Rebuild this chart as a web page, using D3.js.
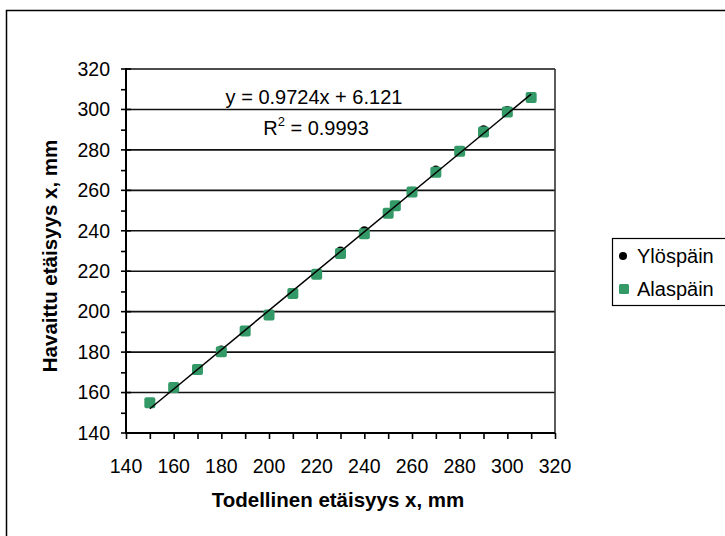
<!DOCTYPE html>
<html>
<head>
<meta charset="utf-8">
<script src="https://cdn.jsdelivr.net/npm/d3@7"></script>
<style>
  html, body { margin: 0; padding: 0; background: #fff; }
  svg { display: block; font-family: "Liberation Sans", Arial, sans-serif; }
</style>
</head>
<body>
<div id="wrapper"></div>
<script>
// datat luettu kuvasta
const xValues = [150, 160, 170, 180, 190, 200, 210, 220, 230, 240, 250, 253, 260, 270, 280, 290, 300, 310];
const ylospain = [155, 163, 171.5, 181, 190.5, 198.5, 209.5, 218.5, 230, 240, 249, 252.5, 259.5, 270, 279.5, 290, 299.5, 306];
const alaspain = [155, 162.5, 171.4, 180.2, 190.5, 198.4, 209, 218.5, 228.8, 238.5, 248.7, 252.4, 259.2, 269, 279.3, 288.8, 298.7, 305.9];
const seriesNames = ["Ylöspäin", "Alaspäin"];
const xTicks = [140, 160, 180, 200, 220, 240, 260, 280, 300, 320];
const yTicks = [140, 160, 180, 200, 220, 240, 260, 280, 300, 320];
const slope = 0.9724, intercept = 6.121, r2 = "0.9993";

function drawChart() {
    const dimensions = {
        width: 725,
        height: 536,
        plot: { left: 126, right: 555, top: 69, bottom: 433 },
    };
    const green = "#339966";

    const svg = d3.select("#wrapper").append("svg")
        .attr("width", dimensions.width)
        .attr("height", dimensions.height);

    // kaavioalueen kehys (jatkuu kuvan ulkopuolelle)
    svg.append("rect")
        .attr("x", 6.5).attr("y", 10.5)
        .attr("width", 740).attr("height", 560)
        .attr("fill", "none").attr("stroke", "#000").attr("stroke-width", 1.5);

    const xScale = d3.scaleLinear().domain([140, 320])
        .range([dimensions.plot.left, dimensions.plot.right]);
    const yScale = d3.scaleLinear().domain([140, 320])
        .range([dimensions.plot.bottom, dimensions.plot.top]);

    // vaakasuorat apuviivat
    svg.append("g").selectAll("line")
        .data(yTicks.slice(1))
        .join("line")
        .attr("x1", dimensions.plot.left).attr("x2", dimensions.plot.right)
        .attr("y1", d => yScale(d)).attr("y2", d => yScale(d))
        .attr("stroke", "#111").attr("stroke-width", 1.6);

    // oikea reuna
    svg.append("line")
        .attr("x1", dimensions.plot.right).attr("x2", dimensions.plot.right)
        .attr("y1", dimensions.plot.top).attr("y2", dimensions.plot.bottom)
        .attr("stroke", "#333").attr("stroke-width", 1.6);

    // x-akseli
    const xAxis = svg.append("g")
        .attr("transform", `translate(0,${dimensions.plot.bottom})`)
        .call(d3.axisBottom(xScale).tickValues(d3.range(140, 321, 10)).tickSize(6).tickFormat(""));
    xAxis.select(".domain").remove();
    xAxis.selectAll("line").attr("stroke", "#000").attr("stroke-width", 1.6);
    xAxis.append("line")
        .attr("x1", dimensions.plot.left).attr("x2", dimensions.plot.right)
        .attr("stroke", "#000").attr("stroke-width", 1.8);

    svg.append("g").selectAll("text")
        .data(xTicks)
        .join("text")
        .attr("x", d => xScale(d))
        .attr("y", 473)
        .attr("text-anchor", "middle")
        .style("font-size", "19.5px")
        .text(d => d);

    // y-akseli
    const yAxis = svg.append("g")
        .attr("transform", `translate(${dimensions.plot.left},0)`)
        .call(d3.axisLeft(yScale).tickValues(d3.range(150, 320, 20)).tickSize(5).tickFormat(""));
    yAxis.select(".domain").remove();
    yAxis.selectAll("line").attr("stroke", "#000").attr("stroke-width", 1.6);
    yAxis.append("g").selectAll("line")
        .data(yTicks)
        .join("line")
        .attr("x1", -5).attr("x2", 5)
        .attr("y1", d => yScale(d)).attr("y2", d => yScale(d))
        .attr("stroke", "#000").attr("stroke-width", 1.6);
    yAxis.append("line")
        .attr("y1", dimensions.plot.top - 1).attr("y2", dimensions.plot.bottom + 1)
        .attr("stroke", "#000").attr("stroke-width", 2);

    svg.append("g").selectAll("text")
        .data(yTicks)
        .join("text")
        .attr("x", 110)
        .attr("y", d => yScale(d))
        .attr("dy", "0.35em")
        .attr("text-anchor", "end")
        .style("font-size", "19.5px")
        .text(d => d);

    // akselien otsikot
    svg.append("text")
        .attr("x", 338).attr("y", 507)
        .attr("text-anchor", "middle")
        .style("font-size", "20.5px").style("font-weight", "bold")
        .text("Todellinen etäisyys x, mm");

    svg.append("text")
        .attr("transform", "translate(57,256) rotate(-90)")
        .attr("text-anchor", "middle")
        .style("font-size", "20.5px").style("font-weight", "bold")
        .text("Havaittu etäisyys x, mm");

    // datapisteet
    svg.append("g").selectAll("circle")
        .data(xValues.map((x, i) => ({ x, y: ylospain[i] })))
        .join("circle")
        .attr("cx", d => xScale(d.x))
        .attr("cy", d => yScale(d.y))
        .attr("r", 4.5)
        .attr("fill", "#000");

    const sq = 11;
    svg.append("g").selectAll("rect")
        .data(xValues.map((x, i) => ({ x, y: alaspain[i] })))
        .join("rect")
        .attr("x", d => xScale(d.x) - sq / 2)
        .attr("y", d => yScale(d.y) - sq / 2)
        .attr("width", sq).attr("height", sq)
        .attr("rx", 2)
        .attr("fill", green);

    // trendiviiva
    const xExt = d3.extent(xValues);
    svg.append("line")
        .attr("x1", xScale(xExt[0])).attr("y1", yScale(slope * xExt[0] + intercept))
        .attr("x2", xScale(xExt[1])).attr("y2", yScale(slope * xExt[1] + intercept))
        .attr("stroke", "#000").attr("stroke-width", 1.5);

    // yhtälö
    svg.append("text")
        .attr("x", 314).attr("y", 104)
        .attr("text-anchor", "middle")
        .style("font-size", "20px")
        .text(`y = ${slope}x + ${intercept}`);

    const r2Text = svg.append("text")
        .attr("x", 316).attr("y", 135)
        .attr("text-anchor", "middle")
        .style("font-size", "20px");
    r2Text.append("tspan").text("R");
    r2Text.append("tspan").attr("dy", -9).style("font-size", "13px").text("2");
    r2Text.append("tspan").attr("dy", 9).text(` = ${r2}`);

    // selite
    const legend = svg.append("g");
    legend.append("rect")
        .attr("x", 612.5).attr("y", 238.5)
        .attr("width", 130).attr("height", 67)
        .attr("fill", "#fff").attr("stroke", "#000").attr("stroke-width", 1.2);

    const rows = legend.selectAll("g")
        .data(seriesNames)
        .join("g")
        .attr("transform", (d, i) => `translate(0,${256 + i * 33})`);
    rows.filter((d, i) => i === 0).append("circle")
        .attr("cx", 623).attr("cy", 0).attr("r", 4).attr("fill", "#000");
    rows.filter((d, i) => i === 1).append("rect")
        .attr("x", 619).attr("y", -5).attr("width", 10).attr("height", 10)
        .attr("rx", 1.5).attr("fill", green);
    rows.append("text")
        .attr("x", 637).attr("dy", "0.35em")
        .style("font-size", "20px")
        .text(d => d);
}

drawChart();
</script>
</body>
</html>
